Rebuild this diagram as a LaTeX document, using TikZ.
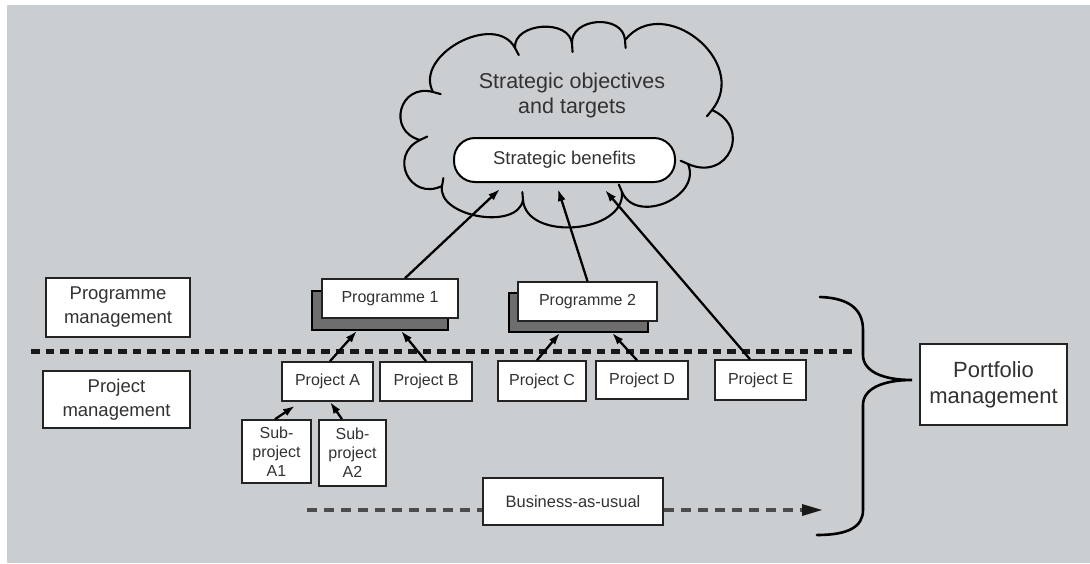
\documentclass[tikz,border=0pt]{standalone}
\usepackage{fontspec}
\setmainfont{Liberation Sans}
\usetikzlibrary{arrows.meta,calc}
\definecolor{bg}{RGB}{203,206,209}
\definecolor{txt}{RGB}{50,50,50}
\definecolor{edge}{RGB}{35,35,35}
\definecolor{shad}{RGB}{110,110,110}
\begin{document}
\begin{tikzpicture}[x=1pt,y=1pt,
  box/.style={draw=edge,line width=1.6pt,fill=white,inner sep=0pt,text=txt,align=center},
  shadowbox/.style={draw=black,line width=1.6pt,fill=shad,inner sep=0pt},
  arr/.style={draw=black,line width=2.3pt,-{Latex[length=12pt,width=8pt]}},
  cloudline/.style={draw=black,line width=2.1pt,line cap=round},
  fsmall/.style={font=\fontsize{16}{19}\selectfont},
  fmid/.style={font=\fontsize{18.5}{24}\selectfont},
  fbig/.style={font=\fontsize{21.5}{25}\selectfont},
  fport/.style={font=\fontsize{22}{26}\selectfont}]
% background
\useasboundingbox (0,0) rectangle (1090,-563);
\fill[white] (0,0) rectangle (1090,-563);
\fill[bg] (7,-5) rectangle (1090,-563);

% cloud
\coordinate (V1) at (433,-92);
\coordinate (V2) at (515,-48);
\coordinate (V3) at (572,-44);
\coordinate (V4) at (625,-40);
\coordinate (V5) at (712,-110);
\coordinate (V6) at (688,-164);
\coordinate (V7) at (622,-192);
\coordinate (V8) at (523,-200);
\coordinate (V9) at (442,-186);
\coordinate (V10) at (420,-140);
\foreach \a/\b/\k in {V1/V2/0.45, V2/V3/0.45, V3/V4/0.5, V4/V5/0.55, V5/V6/0.75, V6/V7/0.5, V7/V8/0.42, V8/V9/0.38, V9/V10/0.7, V10/V1/0.7}
  \draw[cloudline] (\a) .. controls ($(\a)!\k!90:(\b)$) and ($(\b)!\k!-90:(\a)$) .. (\b) -- ($(\b)!8pt!90:(\a)$);

\node[text=txt,align=center,fbig] (obj) at (572,-95) {Strategic objectives\\and targets};
\node[draw=black,line width=2pt,fill=white,rounded corners=21pt,minimum width=221pt,minimum height=44pt,inner sep=0pt,text=txt,font=\fontsize{18.5}{22}\selectfont] (sb) at (564.5,-160) {Strategic benefits};

% left labels
\node[box,fmid,minimum width=144pt,minimum height=59pt] (pgm) at (118,-307.5) {Programme\\management};
\node[box,fmid,minimum width=147pt,minimum height=57pt] (pjm) at (116.5,-399.5) {Project\\management};
\node[box,fport,minimum width=147pt,minimum height=81pt] (pfm) at (993.5,-384.5) {Portfolio\\management};

% programmes
\node[shadowbox,minimum width=136pt,minimum height=39pt] (p1s) at (380,-310.5) {};
\node[box,fsmall,minimum width=136pt,minimum height=39pt] (p1) at (390,-298.5) {Programme 1};
\node[shadowbox,minimum width=139pt,minimum height=39pt] (p2s) at (578.5,-312.5) {};
\node[box,fsmall,minimum width=139pt,minimum height=39pt] (p2) at (587.5,-301.5) {Programme 2};

% dotted divider
\coordinate (dl1) at (31,-351);
\coordinate (dl2) at (852,-351);
\draw[black!90,line width=5pt,dash pattern=on 8.5pt off 6pt] (dl1) -- (dl2);

% projects
\node[box,fsmall,minimum width=91pt,minimum height=39pt] (pA) at (327.5,-381.5) {Project A};
\node[box,fsmall,minimum width=92pt,minimum height=39pt] (pB) at (426,-381.5) {Project B};
\node[box,fsmall,minimum width=88pt,minimum height=40pt] (pC) at (542,-381) {Project C};
\node[box,fsmall,minimum width=92pt,minimum height=38pt] (pD) at (642,-380) {Project D};
\node[box,fsmall,minimum width=91pt,minimum height=40pt] (pE) at (760.5,-380) {Project E};
\node[box,fsmall,minimum width=69pt,minimum height=63pt] (sA1) at (276.5,-451.5) {Sub-\\project\\A1};
\node[box,fsmall,minimum width=67pt,minimum height=66pt] (sA2) at (352.5,-453) {Sub-\\project\\A2};

% arrows
\draw[arr] ($(p1.north)+(15,0)$) -- ($(sb.south)+(-64.5,-6)$);
\draw[arr] (p2.north) -- ($(sb.south)+(-6.5,-6)$);
\draw[arr] ($(pE.north)+(-10.5,0)$) -- ($(sb.south)+(40.5,-7)$);
\draw[arr] ($(pA.north)+(2.5,0)$) -- ($(p1s.south)+(-23,0)$);
\draw[arr] (pB.north) -- ($(p1s.south)+(21,0)$);
\draw[arr] ($(pC.north)+(-5,0)$) -- ($(p2s.south)+(-18.5,0)$);
\draw[arr] ($(pD.north)+(-5,0)$) -- ($(p2s.south)+(33.5,0)$);
\draw[arr] ($(sA1.north)+(-1.5,0)$) -- ($(pA.south)+(-32.5,-4)$);
\draw[arr] ($(sA2.north)+(-10.5,0)$) -- ($(pA.south)+(2.5,0)$);

% business as usual
\coordinate (bstart) at (307,-510);
\coordinate (bend) at (822,-510);
\node[box,font=\fontsize{16.5}{20}\selectfont,minimum width=180pt,minimum height=47pt] (bau) at (573,-501.5) {Business-as-usual};
\draw[black!70,line width=3.2pt,dash pattern=on 10pt off 7pt] (bstart) -- (bstart -| bau.west);
\draw[black!70,line width=3.2pt,dash pattern=on 10pt off 7pt] (bstart -| bau.east) -- ($(bend)+(-14,0)$);
\fill[black!90] (bend) -- ++(-20,6) -- ++(0,-12) -- cycle;

% brace
\draw[black,line width=2.6pt,line cap=round] (820,-297) .. controls (850,-298) and (863,-310) .. (863,-330) -- (863,-355)
  .. controls (863,-371) and (882,-380) .. (912,-380)
  .. controls (882,-380) and (863,-389) .. (863,-405) -- (863,-510)
  .. controls (863,-527) and (848,-535) .. (817,-535);
\end{tikzpicture}
\end{document}
